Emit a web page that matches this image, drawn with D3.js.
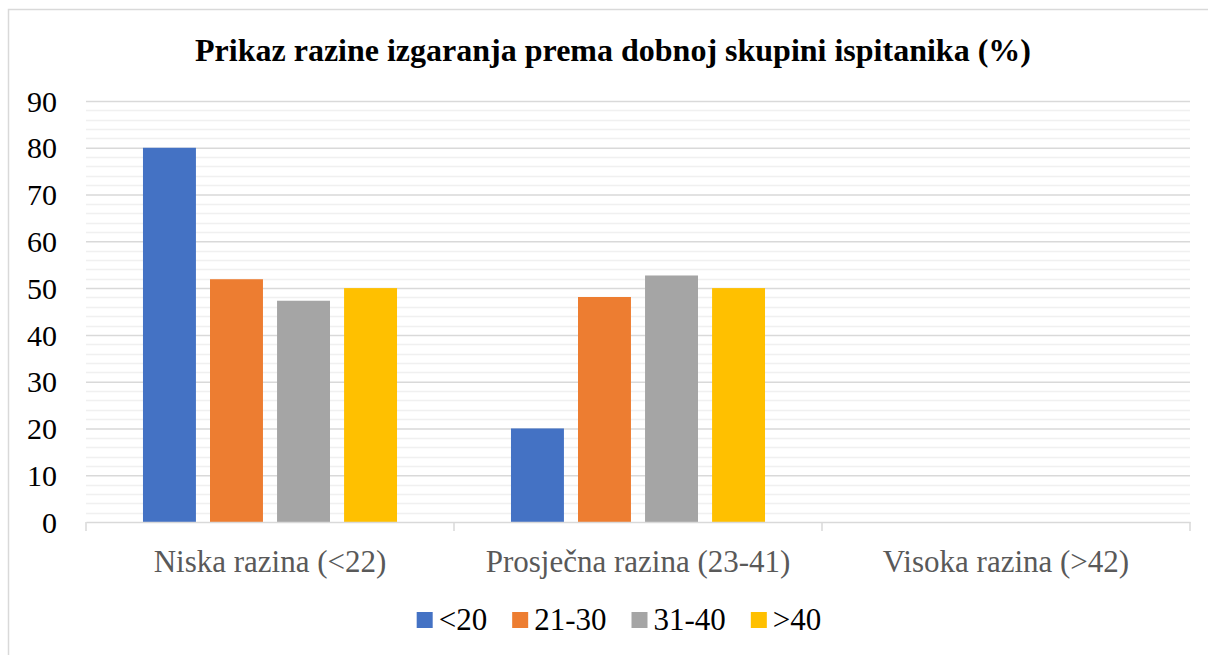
<!DOCTYPE html>
<html>
<head>
<meta charset="utf-8">
<script src="https://cdn.jsdelivr.net/npm/d3@7"></script>
<style>
  body { margin: 0; background: #fff; }
  svg { display: block; font-family: 'Liberation Serif', 'Times New Roman', serif; }
</style>
</head>
<body>
<div id="chart"></div>
<script>
const width = 1208
const height = 655
const margin = { left: 86, right: 18, top: 101, bottom: 133 }
const serif = "'Liberation Serif', 'Times New Roman', serif"

const title = 'Prikaz razine izgaranja prema dobnoj skupini ispitanika (%)'
const categories = ['Niska razina (<22)', 'Prosječna razina (23-41)', 'Visoka razina (>42)']
const series = ['<20', '21-30', '31-40', '>40']
const colors = ['#4472C4', '#ED7D31', '#A5A5A5', '#FFC000']
// values per series, one per category
const under20 = [80, 20, 0]
const from21to30 = [51.9, 48.1, 0]
const from31to40 = [47.3, 52.7, 0]
const over40 = [50, 50, 0]
const yTicks = [0, 10, 20, 30, 40, 50, 60, 70, 80, 90]

const values = [under20, from21to30, from31to40, over40]
const rows = categories.map((c, i) => ({
  category: c,
  bars: series.map((s, j) => ({ key: s, value: values[j][i] }))
}))

const x0 = d3.scaleBand()
  .domain(categories)
  .range([margin.left, width - margin.right])
  .padding(0)
const x1 = d3.scaleBand()
  .domain(series)
  .range([0, x0.bandwidth()])
  .paddingInner(0.21)
  .paddingOuter(0.85)
const y = d3.scaleLinear()
  .domain([0, 90])
  .range([height - margin.bottom, margin.top])
const color = d3.scaleOrdinal()
  .domain(series)
  .range(colors)

const svg = d3.select('#chart')
  .append('svg')
    .attr('width', width)
    .attr('height', height)

// frame
svg.append('rect')
  .attr('x', 8.5)
  .attr('y', 9.5)
  .attr('width', width + 20)
  .attr('height', height + 20)
  .attr('fill', 'none')
  .attr('stroke', '#d9d9d9')
  .attr('stroke-width', 1.5)

// title
svg.append('text')
  .attr('x', 613)
  .attr('y', 61)
  .attr('text-anchor', 'middle')
  .attr('font-family', serif)
  .attr('font-weight', 'bold')
  .attr('font-size', 32)
  .text(title)

// minor gridlines
svg.append('g')
  .selectAll('line')
  .data(d3.range(0, 91, 2).filter(d => d % 10 != 0))
  .enter().append('line')
    .attr('x1', margin.left)
    .attr('x2', width - margin.right)
    .attr('y1', d => Math.round(y(d)) + 0.5)
    .attr('y2', d => Math.round(y(d)) + 0.5)
    .attr('stroke', '#f0f0f0')
    .attr('stroke-width', 1.5)

// major gridlines + y labels
svg.append('g')
  .attr('transform', `translate(${margin.left},0)`)
  .call(d3.axisLeft(y).tickValues(yTicks).tickSize(-(width - margin.left - margin.right)).tickPadding(29))
  .attr('font-family', serif)
  .attr('font-size', 30)
  .call(g => g.select('.domain').remove())
  .call(g => g.selectAll('.tick line')
    .attr('stroke', d => d == 0 ? 'none' : '#d9d9d9')
    .attr('stroke-width', 1.5))
  .call(g => g.selectAll('.tick text')
    .attr('fill', '#000')
    .attr('dy', '0.34em'))

// bars
svg.append('g')
  .selectAll('g')
  .data(rows)
  .enter().append('g')
    .attr('transform', d => `translate(${x0(d.category)},0)`)
  .selectAll('rect')
  .data(d => d.bars)
  .enter().append('rect')
    .attr('x', d => x1(d.key))
    .attr('y', d => y(d.value))
    .attr('width', x1.bandwidth())
    .attr('height', d => y(0) - y(d.value))
    .attr('fill', d => color(d.key))

// x axis
svg.append('g')
  .attr('transform', `translate(0,${y(0)})`)
  .call(d3.axisBottom(x0).tickSize(0).tickPadding(28))
  .attr('font-family', serif)
  .attr('font-size', 31)
  .call(g => g.select('.domain').attr('stroke', '#d9d9d9').attr('stroke-width', 1.5))
  .call(g => g.selectAll('.tick text').attr('fill', '#595959'))
  .call(g => g.selectAll('.boundary')
    .data(categories.map(c => x0(c)).concat([x0.range()[1]]))
    .enter().append('line')
      .attr('x1', d => d)
      .attr('x2', d => d)
      .attr('y1', 0)
      .attr('y2', 9)
      .attr('stroke', '#d9d9d9')
      .attr('stroke-width', 1.5))

// legend
const legend = svg.append('g')
  .attr('font-family', serif)
  .attr('font-size', 31)
const items = legend.selectAll('g')
  .data(series)
  .enter().append('g')
items.append('rect')
  .attr('width', 16)
  .attr('height', 16)
  .attr('y', 612)
  .attr('fill', d => color(d))
items.append('text')
  .attr('x', 22)
  .attr('y', 630)
  .text(d => d)
let offset = 0
items.each(function () {
  const w = 22 + d3.select(this).select('text').node().getComputedTextLength()
  d3.select(this).attr('transform', `translate(${offset},0)`)
  offset += w + 25
})
legend.attr('transform', `translate(${619 - (offset - 25) / 2},0)`)
</script>
</body>
</html>
